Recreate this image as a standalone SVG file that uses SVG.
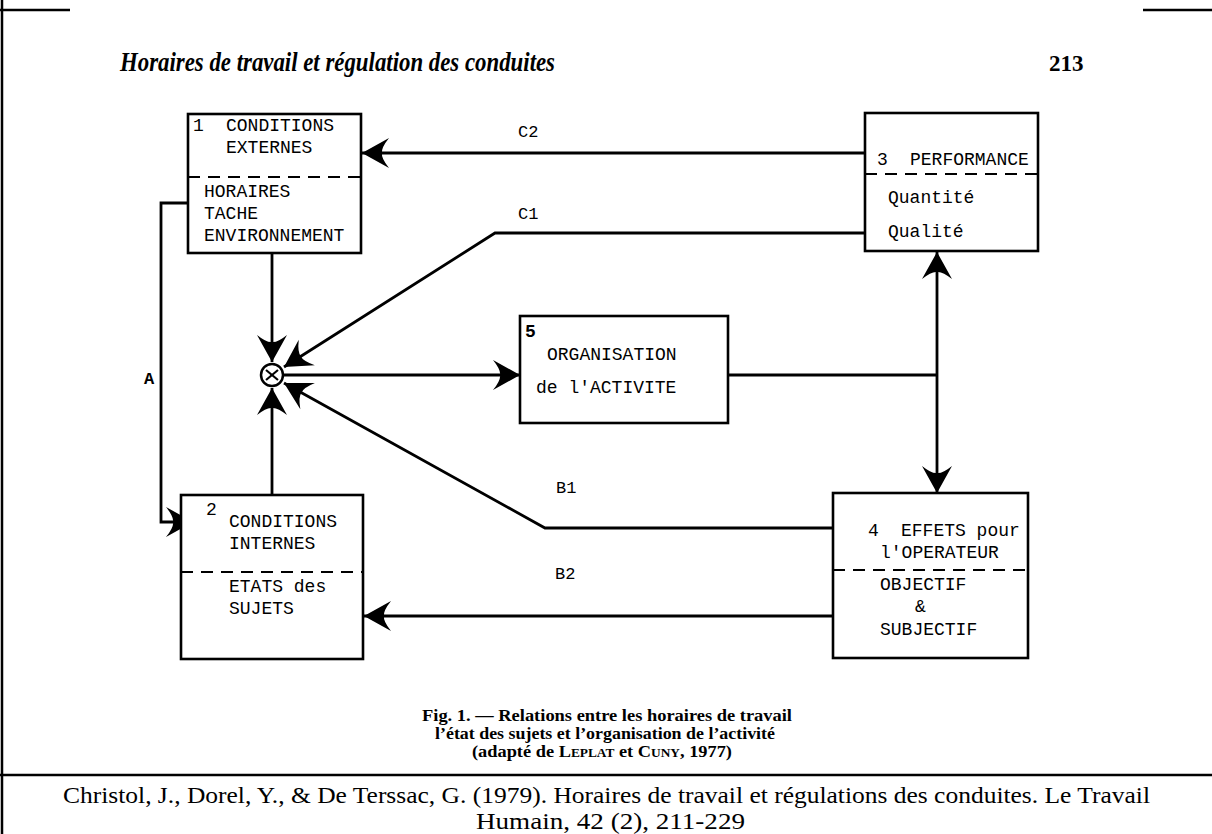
<svg xmlns="http://www.w3.org/2000/svg" width="1212" height="834" viewBox="0 0 1212 834">
<style>
.bx{fill:#fff;stroke:#000;stroke-width:2.6}
.ds{stroke:#000;stroke-width:2.2;stroke-dasharray:12 8;fill:none}
.ln{stroke:#000;stroke-width:2.8;fill:none}
.tt{font-family:"Liberation Mono",monospace;font-size:18px;fill:#000}
.lb{font-family:"Liberation Mono",monospace;font-size:17px;fill:#000}
.cap{font-family:"Liberation Serif",serif;font-weight:bold;font-size:16.5px;fill:#000}
.cit{font-family:"Liberation Serif",serif;font-size:23px;fill:#000}
</style>
<defs>
<marker id="ah" viewBox="-30 -17 32 34" refX="0" refY="0" markerWidth="32" markerHeight="34" markerUnits="userSpaceOnUse" orient="auto-start-reverse">
<path d="M0,0 L-27,-15 Q-19,-5 -20,0 Q-19,5 -27,15 Z" fill="#000"/>
</marker>
</defs>
<rect width="1212" height="834" fill="#fff"/>
<g id="frame" stroke="#000" stroke-width="2.5">
<line x1="2" y1="0" x2="2" y2="834"/>
<line x1="0" y1="10" x2="70" y2="10"/>
<line x1="1143" y1="10" x2="1212" y2="10"/>
<line x1="0" y1="775" x2="1212" y2="775"/>
</g>
<g id="header">
<text x="120" y="71" font-family="'Liberation Serif',serif" font-style="italic" font-weight="bold" font-size="27" textLength="435" lengthAdjust="spacingAndGlyphs">Horaires de travail et régulation des conduites</text>
<text x="1049" y="71" font-family="'Liberation Serif',serif" font-weight="bold" font-size="23">213</text>
</g>
<g id="connectors">
<line class="ln" x1="865" y1="153" x2="362" y2="153" marker-end="url(#ah)"/>
<polyline class="ln" points="865,233 495,233 284,367" marker-end="url(#ah)"/>
<line class="ln" x1="272" y1="253" x2="272" y2="362" marker-end="url(#ah)"/>
<line class="ln" x1="272" y1="495" x2="272" y2="388" marker-end="url(#ah)"/>
<polyline class="ln" points="833,528 545,528 284,383" marker-end="url(#ah)"/>
<line class="ln" x1="833" y1="616" x2="364" y2="616" marker-end="url(#ah)"/>
<line class="ln" x1="284" y1="375" x2="520" y2="375" marker-end="url(#ah)"/>
<line class="ln" x1="728" y1="375" x2="937" y2="375"/>
<line class="ln" x1="937" y1="252" x2="937" y2="493" marker-start="url(#ah)" marker-end="url(#ah)"/>
<polyline class="ln" stroke-width="3.2" points="188,203 161,203 161,522 193,522" marker-end="url(#ah)"/>
<text class="lb" x="518" y="137">C2</text>
<text class="lb" x="518" y="219">C1</text>
<text class="lb" x="556" y="493">B1</text>
<text class="lb" x="555" y="579">B2</text>
<text class="lb" x="144" y="384" font-weight="bold" font-size="18">A</text>
</g>
<g id="junction">
<circle cx="272" cy="375" r="11" fill="#fff" stroke="#000" stroke-width="2.5"/>
<line x1="266" y1="370" x2="278" y2="380" stroke="#000" stroke-width="2.2"/>
<line x1="266" y1="380" x2="278" y2="370" stroke="#000" stroke-width="2.2"/>
</g>
<g id="node1">
<rect class="bx" x="188" y="114" width="173" height="139"/>
<line class="ds" x1="188" y1="177" x2="361" y2="177"/>
<text class="tt" x="193" y="131">1</text>
<text class="tt" x="226" y="131">CONDITIONS</text>
<text class="tt" x="226" y="153">EXTERNES</text>
<text class="tt" x="204" y="197">HORAIRES</text>
<text class="tt" x="204" y="219">TACHE</text>
<text class="tt" x="204" y="241">ENVIRONNEMENT</text>
</g>
<g id="node3">
<rect class="bx" x="865" y="113" width="173" height="138"/>
<line class="ds" x1="865" y1="174" x2="1038" y2="174"/>
<text class="tt" x="877" y="165">3</text>
<text class="tt" x="910" y="165">PERFORMANCE</text>
<text class="tt" x="888" y="203">Quantité</text>
<text class="tt" x="888" y="237">Qualité</text>
</g>
<g id="node5">
<rect class="bx" x="520" y="316" width="208" height="107"/>
<text class="tt" x="525" y="337" font-size="17" font-weight="bold">5</text>
<text class="tt" x="547" y="360">ORGANISATION</text>
<text class="tt" x="536" y="393">de l'ACTIVITE</text>
</g>
<g id="node4">
<rect class="bx" x="833" y="493" width="195" height="165"/>
<line class="ds" x1="833" y1="570" x2="1028" y2="570"/>
<text class="tt" x="868" y="536">4</text>
<text class="tt" x="901" y="536">EFFETS pour</text>
<text class="tt" x="880" y="558">l'OPERATEUR</text>
<text class="tt" x="880" y="590">OBJECTIF</text>
<text class="tt" x="915" y="612">&amp;</text>
<text class="tt" x="880" y="635">SUBJECTIF</text>
</g>
<g id="node2">
<rect class="bx" x="181" y="495" width="182" height="164"/>
<line class="ds" x1="181" y1="572" x2="363" y2="572"/>
<text class="tt" x="206" y="515" font-size="15">2</text>
<text class="tt" x="229" y="527">CONDITIONS</text>
<text class="tt" x="229" y="549">INTERNES</text>
<text class="tt" x="229" y="592">ETATS des</text>
<text class="tt" x="229" y="614">SUJETS</text>
</g>
<g id="caption">
<text class="cap" x="422" y="721" textLength="370" lengthAdjust="spacingAndGlyphs">Fig. 1. — Relations entre les horaires de travail</text>
<text class="cap" x="435" y="739" textLength="340" lengthAdjust="spacingAndGlyphs">l’état des sujets et l’organisation de l’activité</text>
<text class="cap" x="472" y="757" textLength="260" lengthAdjust="spacingAndGlyphs">(adapté de <tspan font-variant="small-caps">Leplat</tspan> et <tspan font-variant="small-caps">Cuny</tspan>, 1977)</text>
</g>
<g id="citation">
<text class="cit" x="63" y="803" textLength="1087" lengthAdjust="spacingAndGlyphs">Christol, J., Dorel, Y., &amp; De Terssac, G. (1979). Horaires de travail et régulations des conduites. Le Travail</text>
<text class="cit" x="476" y="829" textLength="269" lengthAdjust="spacingAndGlyphs">Humain, 42 (2), 211-229</text>
</g>
</svg>
